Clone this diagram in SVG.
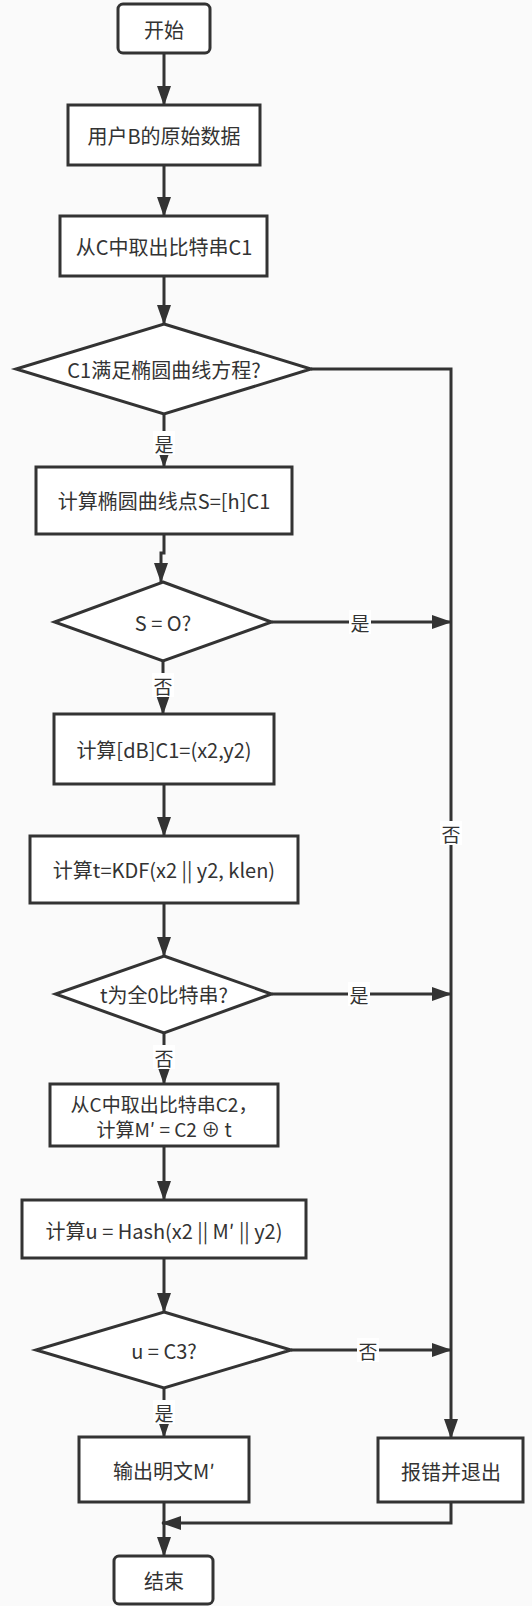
<svg xmlns="http://www.w3.org/2000/svg" width="532" height="1606" viewBox="0 0 532 1606">
<defs>
<marker id="arr" markerUnits="userSpaceOnUse" markerWidth="20" markerHeight="14" refX="19" refY="7" orient="auto">
<path d="M0,0 L20,7 L0,14 z" fill="#333"/>
</marker>
<style>
.n{fill:#fff;stroke:#333;stroke-width:3}
.t{font-family:"Noto Sans CJK SC","Microsoft YaHei",sans-serif;font-size:20px;fill:#333;text-anchor:middle;dominant-baseline:central}
.s{font-size:19px}
.l{font-family:"Noto Sans CJK SC","Microsoft YaHei",sans-serif;font-size:19px;fill:#333;text-anchor:middle;dominant-baseline:central}
.c{fill:none;stroke:#333;stroke-width:3}
.lb{fill:#fff}
</style>
</defs>
<rect width="532" height="1606" fill="#fafafa"/>
<g id="connectors">
<path class="c" d="M164,53 V105" marker-end="url(#arr)"/>
<path class="c" d="M164,165 V216" marker-end="url(#arr)"/>
<path class="c" d="M164,276 V324" marker-end="url(#arr)"/>
<path class="c" d="M164,414 V467" marker-end="url(#arr)"/>
<path class="c" d="M164,534 V553 H161 V582" marker-end="url(#arr)"/>
<path class="c" d="M311,369 H451 V1438" marker-end="url(#arr)"/>
<path class="c" d="M271.5,622 H451" marker-end="url(#arr)"/>
<path class="c" d="M163,661 V714" marker-end="url(#arr)"/>
<path class="c" d="M164,784 V836" marker-end="url(#arr)"/>
<path class="c" d="M164,903 V956" marker-end="url(#arr)"/>
<path class="c" d="M271.5,994 H451" marker-end="url(#arr)"/>
<path class="c" d="M164,1033 V1084" marker-end="url(#arr)"/>
<path class="c" d="M164,1146 V1200" marker-end="url(#arr)"/>
<path class="c" d="M164,1258 V1312" marker-end="url(#arr)"/>
<path class="c" d="M291,1350 H451" marker-end="url(#arr)"/>
<path class="c" d="M164,1388 V1437" marker-end="url(#arr)"/>
<path class="c" d="M164,1502 V1556" marker-end="url(#arr)"/>
<path class="c" d="M451,1502 V1523 H162" marker-end="url(#arr)"/>
<rect class="lb" x="153" y="431" width="22" height="24"/><text class="l" x="164" y="443">是</text>
<rect class="lb" x="349" y="610" width="22" height="24"/><text class="l" x="360" y="622">是</text>
<rect class="lb" x="152" y="673" width="22" height="24"/><text class="l" x="163" y="685">否</text>
<rect class="lb" x="440" y="821" width="22" height="24"/><text class="l" x="451" y="833">否</text>
<rect class="lb" x="348" y="982" width="22" height="24"/><text class="l" x="359" y="994">是</text>
<rect class="lb" x="153" y="1045" width="22" height="24"/><text class="l" x="164" y="1057">否</text>
<rect class="lb" x="357" y="1338" width="22" height="24"/><text class="l" x="368" y="1350">否</text>
<rect class="lb" x="153" y="1400" width="22" height="24"/><text class="l" x="164" y="1412">是</text>
</g>
<g id="start"><rect class="n" x="118" y="4" width="92" height="49" rx="5"/><text class="t" x="164" y="29">开始</text></g>
<g id="raw"><rect class="n" x="68" y="105" width="192" height="60"/><text class="t" x="164" y="135">用户B的原始数据</text></g>
<g id="takeC1"><rect class="n" x="60" y="216" width="207" height="60"/><text class="t" x="164" y="246">从C中取出比特串C1</text></g>
<g id="checkC1"><polygon class="n" points="164,324 311,369 164,414 16,369"/><text class="t" x="164" y="369">C1满足椭圆曲线方程?</text></g>
<g id="calcS"><rect class="n" x="36" y="467" width="256" height="67"/><text class="t" x="164" y="500">计算椭圆曲线点S=[h]C1</text></g>
<g id="checkS"><polygon class="n" points="163,582 271.5,622 163,661 54.5,622"/><text class="t" x="163" y="622">S = O?</text></g>
<g id="calcDB"><rect class="n" x="54" y="714" width="220" height="70"/><text class="t" x="164" y="749">计算[dB]C1=(x2,y2)</text></g>
<g id="calcT"><rect class="n" x="30" y="836" width="268" height="67"/><text class="t" x="164" y="869">计算t=KDF(x2 || y2, klen)</text></g>
<g id="checkT"><polygon class="n" points="164,956 271.5,994 164,1033 55.5,994"/><text class="t" x="164" y="994">t为全0比特串?</text></g>
<g id="calcM"><rect class="n" x="50" y="1084" width="228" height="62"/><text class="t s" x="164" y="1103">从C中取出比特串C2，</text><text class="t s" x="164" y="1128">计算M′ = C2 ⊕ t</text></g>
<g id="calcU"><rect class="n" x="22" y="1200" width="284" height="58"/><text class="t" x="164" y="1230">计算u = Hash(x2 || M′ || y2)</text></g>
<g id="checkU"><polygon class="n" points="164,1312 291,1350 164,1388 36,1350"/><text class="t" x="164" y="1350">u = C3?</text></g>
<g id="output"><rect class="n" x="79" y="1437" width="170" height="65"/><text class="t" x="164" y="1470">输出明文M′</text></g>
<g id="error"><rect class="n" x="378" y="1438" width="145" height="64"/><text class="t" x="451" y="1471">报错并退出</text></g>
<g id="end"><rect class="n" x="114" y="1556" width="99" height="48" rx="5"/><text class="t" x="164" y="1580">结束</text></g>
</svg>
